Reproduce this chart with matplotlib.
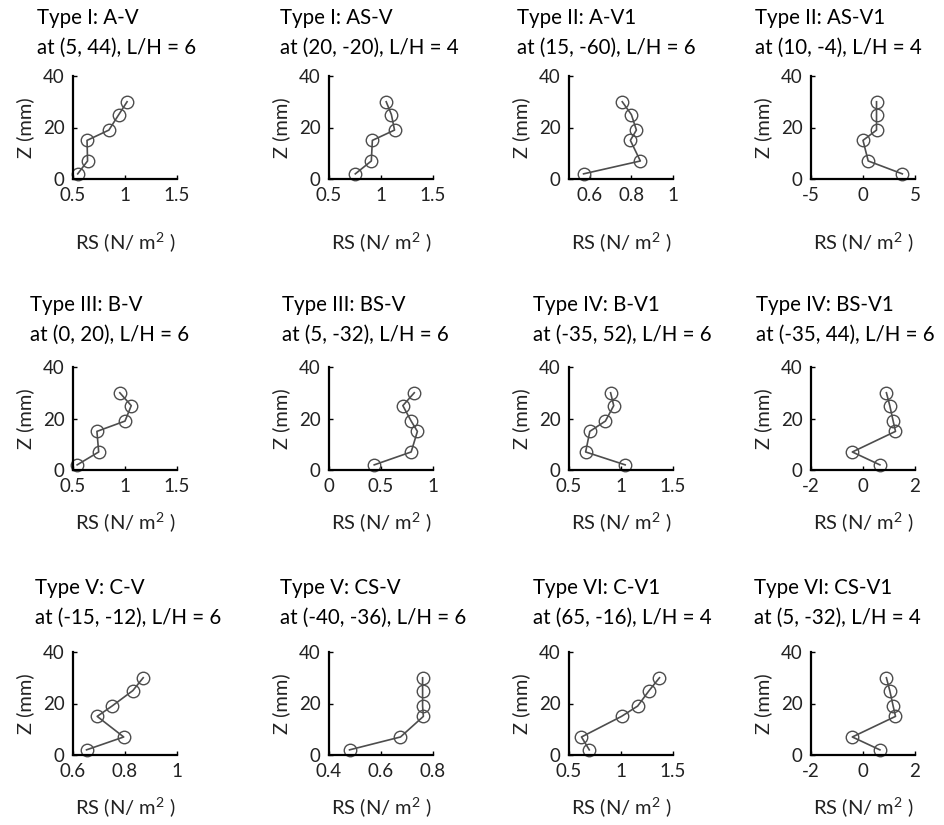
import matplotlib
matplotlib.use("Agg")
import matplotlib.pyplot as plt

plt.rcParams['font.family'] = ['Lato', 'DejaVu Sans']
plt.rcParams['mathtext.fontset'] = 'custom'
plt.rcParams['mathtext.rm'] = 'Lato'
plt.rcParams['axes.unicode_minus'] = False

# heights of the measuring points (mm)
z = [2, 7, 15, 19, 25, 30]

titles = [
    "Type I: A-V\nat (5, 44), L/H = 6",
    "Type I: AS-V\nat (20, -20), L/H = 4",
    "Type II: A-V1\nat (15, -60), L/H = 6",
    "Type II: AS-V1\nat (10, -4), L/H = 4",
    "Type III: B-V\nat (0, 20), L/H = 6",
    "Type III: BS-V\nat (5, -32), L/H = 6",
    "Type IV: B-V1\nat (-35, 52), L/H = 6",
    "Type IV: BS-V1\nat (-35, 44), L/H = 6",
    "Type V: C-V\nat (-15, -12), L/H = 6",
    "Type V: CS-V\nat (-40, -36), L/H = 6",
    "Type VI: C-V1\nat (65, -16), L/H = 4",
    "Type VI: CS-V1\nat (5, -32), L/H = 4",
]

# Reynolds stress at each height (N/m^2), bottom to top
rs = [
    [0.545, 0.64, 0.635, 0.845, 0.94, 1.02],
    [0.753, 0.907, 0.917, 1.13, 1.10, 1.05],
    [0.57, 0.843, 0.795, 0.824, 0.80, 0.756],
    [3.78, 0.5, 0.0, 1.3, 1.3, 1.3],
    [0.54, 0.747, 0.73, 1.0, 1.06, 0.95],
    [0.435, 0.79, 0.85, 0.79, 0.71, 0.82],
    [1.04, 0.66, 0.70, 0.85, 0.93, 0.90],
    [0.65, -0.41, 1.25, 1.16, 1.03, 0.90],
    [0.652, 0.795, 0.693, 0.75, 0.83, 0.87],
    [0.479, 0.675, 0.763, 0.76, 0.76, 0.76],
    [0.695, 0.62, 1.005, 1.16, 1.27, 1.37],
    [0.65, -0.41, 1.25, 1.16, 1.03, 0.90],
]

xlims = [(0.5, 1.5), (0.5, 1.5), (0.5, 1), (-5, 5),
         (0.5, 1.5), (0, 1), (0.5, 1.5), (-2, 2),
         (0.6, 1), (0.4, 0.8), (0.5, 1.5), (-2, 2)]
xticks = [[0.5, 1, 1.5], [0.5, 1, 1.5], [0.6, 0.8, 1], [-5, 0, 5],
          [0.5, 1, 1.5], [0, 0.5, 1], [0.5, 1, 1.5], [-2, 0, 2],
          [0.6, 0.8, 1], [0.4, 0.6, 0.8], [0.5, 1, 1.5], [-2, 0, 2]]
yticks = [0, 20, 40]

W, H = 945, 825
fig = plt.figure(figsize=(W / 100, H / 100), dpi=100)

col_left = [73, 329, 569, 811]
row_top = [76, 367, 652]
aw, ah = 104, 103
xpads = [19, 11, 11]
title_up = [43, 47, 49]
title_dx = [-36, -49, -52, -56, -43, -47, -36, -55, -38, -49, -36, -57]

for i in range(12):
    r, c = divmod(i, 4)
    ax = fig.add_axes([col_left[c] / W, 1 - (row_top[r] + ah) / H, aw / W, ah / H])
    ax.plot(rs[i], z, '-o', color='#4d4d4d', lw=1.2, ms=9, mfc='none',
            mec='#4d4d4d', mew=1.0, clip_on=False)
    ax.set_xlim(xlims[i])
    ax.set_ylim(0, 40)
    ax.set_xticks(xticks[i])
    ax.set_xticklabels(['{:g}'.format(t) for t in xticks[i]])
    ax.set_yticks(yticks)
    for s in ['top', 'right']:
        ax.spines[s].set_visible(False)
    for s in ['left', 'bottom']:
        ax.spines[s].set_linewidth(1.6)
    ax.tick_params(direction='in', length=3, width=1, labelsize=13.5, pad=6,
                   colors='black', labelcolor='#222222')
    ax.set_xlabel('RS (N/ m$^2$ )', fontsize=14.5, color='#222222', labelpad=xpads[r])
    ax.set_ylabel('Z (mm)', fontsize=14.5, color='#222222', labelpad=6)
    ax.text(title_dx[i] / aw, 1 + title_up[r] / ah, titles[i], transform=ax.transAxes,
            ha='left', va='center', multialignment='left', fontsize=14.8,
            linespacing=1.6, color='black')

fig.savefig('out.png', dpi=100)
